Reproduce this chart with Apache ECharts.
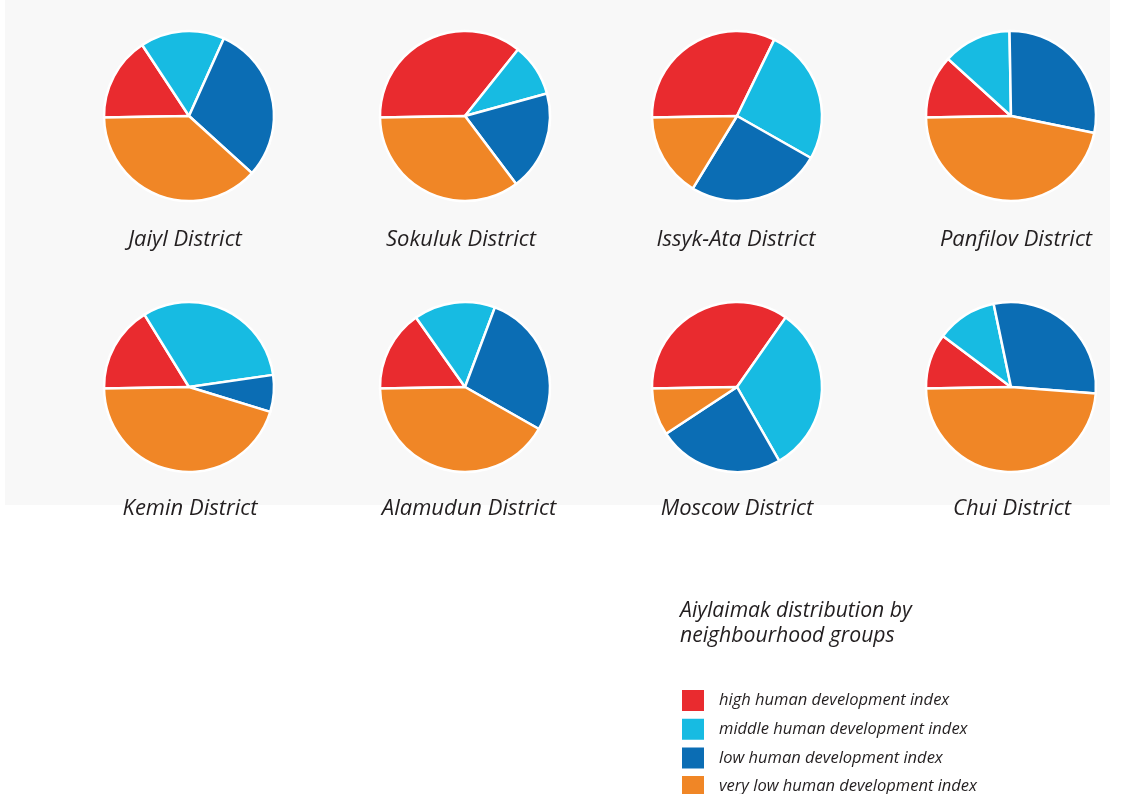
<!DOCTYPE html>
<html>
<head>
<meta charset="utf-8">
<title>Aiylaimak distribution by neighbourhood groups</title>
<script src="https://cdn.jsdelivr.net/npm/echarts@6/dist/echarts.min.js"></script>
<style>
  html, body { margin: 0; padding: 0; background: #ffffff; }
  #chart { width: 1121px; height: 794px; }
</style>
</head>
<body>
<div id="chart"></div>
<script>
// Neighbourhood groups (legend order = slice order, clockwise from 9 o'clock)
const categories = [
  'high human development index',
  'middle human development index',
  'low human development index',
  'very low human development index'
];

const districts = [
  'Jaiyl District', 'Sokuluk District', 'Issyk-Ata District', 'Panfilov District',
  'Kemin District', 'Alamudun District', 'Moscow District', 'Chui District'
];

// Share of aiylaimaks (%) in each group, per district
const highHDI    = [16,   36,   32.5, 12,   16.5, 15.5, 35,  10.5];
const middleHDI  = [16,   10,   26,   13,   31.5, 15.5, 32,  11.5];
const lowHDI     = [30,   19,   25.5, 28.5, 7,    27.5, 24,  29.5];
const veryLowHDI = [38,   35,   16,   46.5, 45,   41.5, 9,   48.5];

const groupColors = ['#e92b2f', '#17bbe2', '#0b6db4', '#f08626'];

const FONT = '"Open Sans", "Noto Sans", sans-serif';
const TEXT_COLOR = '#231f20';

// Grid layout of the small multiples
const colX = [189, 465, 737, 1011];
const rowY = [116, 387];
const labelX = [180, 456, 731, 1011, 185, 464, 732, 1007];
const labelY = [239, 508];
const pieRadius = 85;

const series = districts.map((name, i) => ({
  type: 'pie',
  name: name,
  center: [colX[i % 4], rowY[Math.floor(i / 4)]],
  radius: pieRadius,
  startAngle: 181,
  clockwise: true,
  silent: true,
  label: { show: false },
  labelLine: { show: false },
  emphasis: { disabled: true },
  itemStyle: { borderColor: '#ffffff', borderWidth: 2.5 },
  data: categories.map((c, k) => ({
    name: c,
    value: [highHDI, middleHDI, lowHDI, veryLowHDI][k][i]
  }))
}));

const districtTitles = districts.map((name, i) => ({
  text: name,
  left: labelX[i],
  top: labelY[Math.floor(i / 4)] - 15,
  textAlign: 'center',
  textStyle: {
    fontFamily: FONT,
    fontStyle: 'italic',
    fontWeight: 'normal',
    fontSize: 22,
    color: TEXT_COLOR
  }
}));

// One single-entry legend per group so the column can run to the page edge
const legendTop = 688;
const legendStep = 28.7;
const legends = categories.map((c, k) => ({
  orient: 'vertical',
  left: 680,
  top: legendTop + k * legendStep,
  padding: 0,
  itemWidth: 24,
  itemHeight: 23,
  icon: 'rect',
  selectedMode: false,
  data: [c],
  textStyle: {
    fontFamily: FONT,
    fontStyle: 'italic',
    fontSize: 16.5,
    color: TEXT_COLOR,
    padding: [0, 0, 0, 9]
  }
}));

const option = {
  animation: false,
  backgroundColor: '#ffffff',
  color: groupColors,
  graphic: [{
    type: 'rect',
    z: -10,
    silent: true,
    shape: { x: 5, y: 0, width: 1105, height: 505 },
    style: { fill: '#f8f8f8' }
  }],
  title: districtTitles.concat([{
    text: 'Aiylaimak distribution by\nneighbourhood groups',
    left: 675,
    top: 593,
    textStyle: {
      fontFamily: FONT,
      fontStyle: 'italic',
      fontWeight: 'normal',
      fontSize: 21.2,
      lineHeight: 25,
      color: TEXT_COLOR
    }
  }]),
  legend: legends,
  series: series
};

const chart = echarts.init(document.getElementById('chart'), null, { renderer: 'canvas' });
chart.setOption(option);
</script>
</body>
</html>
